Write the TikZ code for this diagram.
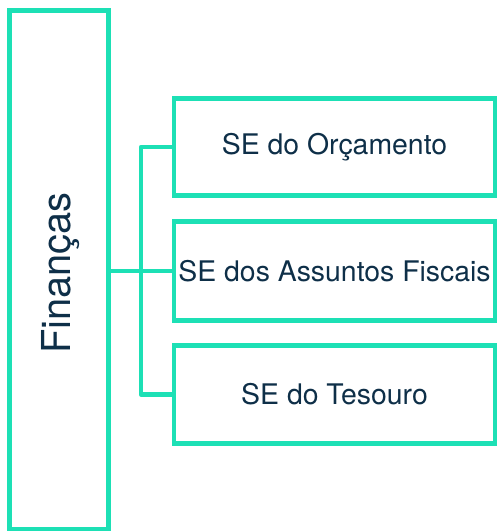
\documentclass[tikz,border=0pt]{standalone}
\usepackage{fontspec}
\setmainfont{TeX Gyre Heros}
\definecolor{teal1}{HTML}{1DE0B5}
\definecolor{navy1}{HTML}{0E2F48}
\begin{document}
\begin{tikzpicture}[x=1bp,y=-1bp,
  box/.style={draw=teal1, line width=4.5bp, inner sep=0pt, text=navy1, font=\fontsize{28.5}{32}\selectfont},
  conn/.style={draw=teal1, line width=4.5bp, line join=round}]
\useasboundingbox (0,0) rectangle (499,531);
\node[box, minimum width=99bp, minimum height=519bp] (L) at (59,270) {};
\node[text=navy1, font=\fontsize{40}{44}\selectfont, rotate=90] (Lt) at (61,273) {Finanças};
\node[box, minimum width=321bp, minimum height=97bp] (B1) at (334.5,147) {SE do Orçamento};
\node[box, minimum width=321bp, minimum height=98.5bp] (B2) at (334.5,271) {SE dos Assuntos Fiscais};
\node[box, minimum width=321bp, minimum height=98bp] (B3) at (334.5,394.5) {SE do Tesouro};
\coordinate (j) at (141,271);
\draw[conn] (L.east |- B2.west) -- (B2.west);
\draw[conn] (B1.west) -- (j |- B1.west) -- (j |- B3.west) -- (B3.west);
\end{tikzpicture}
\end{document}
